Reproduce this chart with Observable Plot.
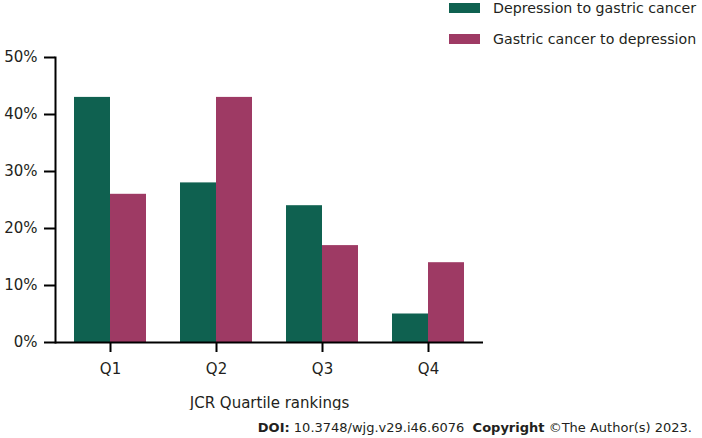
<!DOCTYPE html>
<html>
<head>
<meta charset="utf-8">
<script src="https://cdn.jsdelivr.net/npm/d3@7"></script>
<script src="https://cdn.jsdelivr.net/npm/@observablehq/plot@0.6"></script>
<style>
  body { margin: 0; background: #fff; font-family: "DejaVu Sans", Verdana, sans-serif; color: #231f20; }
  #wrap { width: 702px; height: 438px; position: relative; overflow: hidden; }
  #legend { height: 48px; position: relative; }
  .item { position: absolute; left: 449px; display: flex; align-items: center; font-size: 14.2px; white-space: nowrap; line-height: 18px; }
  .sw { width: 31px; height: 10px; margin-right: 13px; }
  #caption { position: absolute; right: 10px; top: 420px; font-size: 13px; white-space: nowrap; }
  svg { display: block; }
</style>
</head>
<body>
<div id="wrap">
  <div id="legend"></div>
  <div id="chart"></div>
  <div id="caption"><b>DOI:</b> 10.3748/wjg.v29.i46.6076&nbsp;&nbsp;<b>Copyright</b> ©The Author(s) 2023.</div>
</div>
<script>
const quartiles = ["Q1", "Q2", "Q3", "Q4"];
const seriesNames = ["Depression to gastric cancer", "Gastric cancer to depression"];
const depressionToGastric = [43, 28, 24, 5];
const gastricToDepression = [26, 43, 17, 14];
const colors = ["#0f6150", "#9e3a64"];
const yTicks = [0, 10, 20, 30, 40, 50];

const data = [];
quartiles.forEach((q, i) => {
  data.push({quartile: q, series: seriesNames[0], value: depressionToGastric[i]});
  data.push({quartile: q, series: seriesNames[1], value: gastricToDepression[i]});
});

// legend
const legend = document.getElementById("legend");
seriesNames.forEach((s, i) => {
  const d = document.createElement("div");
  d.className = "item";
  d.style.top = (i === 0 ? -1 : 30) + "px";
  d.innerHTML = `<span class="sw" style="background:${colors[i]}"></span><span>${s}</span>`;
  legend.appendChild(d);
});

const chart = Plot.plot({
  width: 702,
  height: 362,
  marginTop: 9,
  marginLeft: 55,
  marginRight: 219,
  marginBottom: 68,
  style: {fontFamily: "DejaVu Sans, Verdana, sans-serif", fontSize: "15px", color: "#231f20"},
  x: {domain: quartiles, paddingInner: 0.325, paddingOuter: 0.169, label: null},
  y: {domain: [0, 50], label: null},
  color: {domain: seriesNames, range: colors},
  marks: [
    Plot.barY(data.filter(d => d.series === seriesNames[0]), {x: "quartile", y: "value", fill: colors[0], insetLeft: 0, insetRight: 36}),
    Plot.barY(data.filter(d => d.series === seriesNames[1]), {x: "quartile", y: "value", fill: colors[1], insetLeft: 36, insetRight: 0}),
    Plot.axisY({ticks: yTicks, tickFormat: d => d + "%", tickSize: 11, tickPadding: 7, strokeWidth: 2, stroke: "#000", fontSize: 15, label: null}),
    Plot.axisX({tickSize: 10, tickPadding: 11, strokeWidth: 2, stroke: "#000", fontSize: 15, label: "JCR Quartile rankings", labelAnchor: "center", labelOffset: 65, labelArrow: "none"}),
    Plot.frame({anchor: "left", stroke: "#000", strokeWidth: 2}),
    Plot.ruleY([0], {stroke: "#000", strokeWidth: 2})
  ]
});
document.getElementById("chart").appendChild(chart);
</script>
</body>
</html>
